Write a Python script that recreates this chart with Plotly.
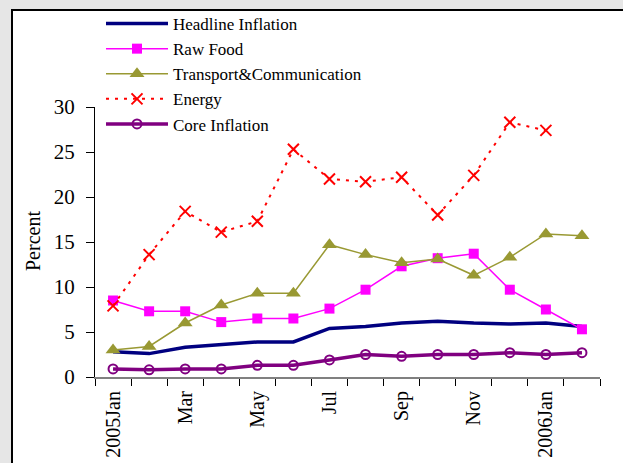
import plotly.graph_objects as go

months = ["2005Jan", "Feb", "Mar", "Apr", "May", "Jun", "Jul", "Aug", "Sep", "Oct", "Nov", "Dec", "2006Jan", "Feb"]
headline = [2.8, 2.6, 3.3, 3.6, 3.9, 3.9, 5.4, 5.6, 6.0, 6.2, 6.0, 5.9, 6.0, 5.6]
raw_food = [8.5, 7.3, 7.3, 6.1, 6.5, 6.5, 7.6, 9.7, 12.3, 13.2, 13.7, 9.7, 7.5, 5.3]
transport = [3.0, 3.4, 6.0, 8.0, 9.3, 9.3, 14.7, 13.6, 12.7, 13.1, 11.3, 13.3, 15.9, 15.7]
energy = [7.9, 13.6, 18.4, 16.1, 17.3, 25.3, 22.0, 21.7, 22.2, 18.0, 22.4, 28.3, 27.4, None]
core = [0.9, 0.8, 0.9, 0.9, 1.3, 1.3, 1.9, 2.5, 2.3, 2.5, 2.5, 2.7, 2.5, 2.7]
label_idx = [0, 2, 4, 6, 8, 10, 12]
y_title = "Percent"

xs = list(range(len(months)))

W, H = 623, 463
ML, MR, MT, MB = 95, 23, 107, 86
PW, PH = W - ML - MR, H - MT - MB

def px(x):
    return (x - ML) / PW

def py(y):
    return (H - MB - y) / PH

fig = go.Figure()
fig.add_trace(go.Scatter(x=xs, y=headline, name="Headline Inflation", mode="lines",
                         line=dict(color="#000080", width=3.5)))
fig.add_trace(go.Scatter(x=xs, y=raw_food, name="Raw Food", mode="lines+markers",
                         line=dict(color="#FF00FF", width=1.5),
                         marker=dict(symbol="square", size=10, color="#FF00FF")))
fig.add_trace(go.Scatter(x=xs, y=transport, name="Transport&Communication", mode="lines+markers",
                         line=dict(color="#999933", width=1.5),
                         marker=dict(symbol="triangle-up", size=13, color="#999933")))
fig.add_trace(go.Scatter(x=xs, y=energy, name="Energy", mode="lines+markers",
                         line=dict(color="#FF0000", width=2, dash="3px,6px"),
                         marker=dict(symbol="x-thin-open", size=11, color="#FF0000",
                                     line=dict(color="#FF0000", width=2))))
fig.add_trace(go.Scatter(x=xs, y=core, name="Core Inflation", mode="lines+markers",
                         line=dict(color="#800080", width=3.5),
                         marker=dict(symbol="circle-open", size=9, color="#800080",
                                     line=dict(color="#800080", width=2))))

# dummy trace for label axis
fig.add_trace(go.Scatter(x=xs, y=[None] * len(xs), xaxis="x2", showlegend=False, hoverinfo="skip"))

serif = "Liberation Serif, Times New Roman, serif"

fig.update_layout(
    width=W, height=H, autosize=False,
    margin=dict(l=ML, r=MR, t=MT, b=MB, autoexpand=False),
    paper_bgcolor="#e6e6e6",
    plot_bgcolor="white",
    font=dict(family=serif, size=20, color="black"),
    showlegend=True,
    legend=dict(x=px(101), y=py(6), xanchor="left", yanchor="top",
                bgcolor="rgba(0,0,0,0)", font=dict(family=serif, size=17),
                itemwidth=62, tracegroupgap=0),
    xaxis=dict(range=[-0.5, len(xs) - 0.5], tickmode="linear", tick0=-0.5, dtick=1,
               showticklabels=False, ticks="outside", ticklen=7, tickcolor="black",
               showline=True, linecolor="#808080", linewidth=2, showgrid=False, zeroline=False,
               automargin=False),
    xaxis2=dict(overlaying="x", side="bottom", range=[-0.5, len(xs) - 0.5],
                tickmode="array", tickvals=label_idx, ticktext=[months[i] for i in label_idx],
                tickangle=-90, ticks="", showline=False, showgrid=False, zeroline=False,
                tickfont=dict(family=serif, size=20), ticklabelstandoff=9, automargin=False),
    yaxis=dict(range=[0, 30], tickmode="linear", tick0=0, dtick=5,
               ticks="outside", ticklen=8, tickcolor="black",
               showline=True, linecolor="black", linewidth=1, showgrid=False, zeroline=False,
               tickfont=dict(family=serif, size=21),
               ticklabelstandoff=7, automargin=False),
    annotations=[dict(text=y_title, xref="paper", yref="paper", x=px(33), y=py(241),
                      textangle=-90, showarrow=False, xanchor="center", yanchor="middle",
                      font=dict(family=serif, size=20))],
    shapes=[dict(type="rect", xref="paper", yref="paper", x0=px(12), x1=px(660),
                 y0=py(500), y1=py(10), line=dict(color="black", width=2),
                 fillcolor="white", layer="below")],
)

fig.write_html("out.html", config={"displayModeBar": False},
               post_script="document.body.style.margin='0';document.body.style.overflow='hidden';")
